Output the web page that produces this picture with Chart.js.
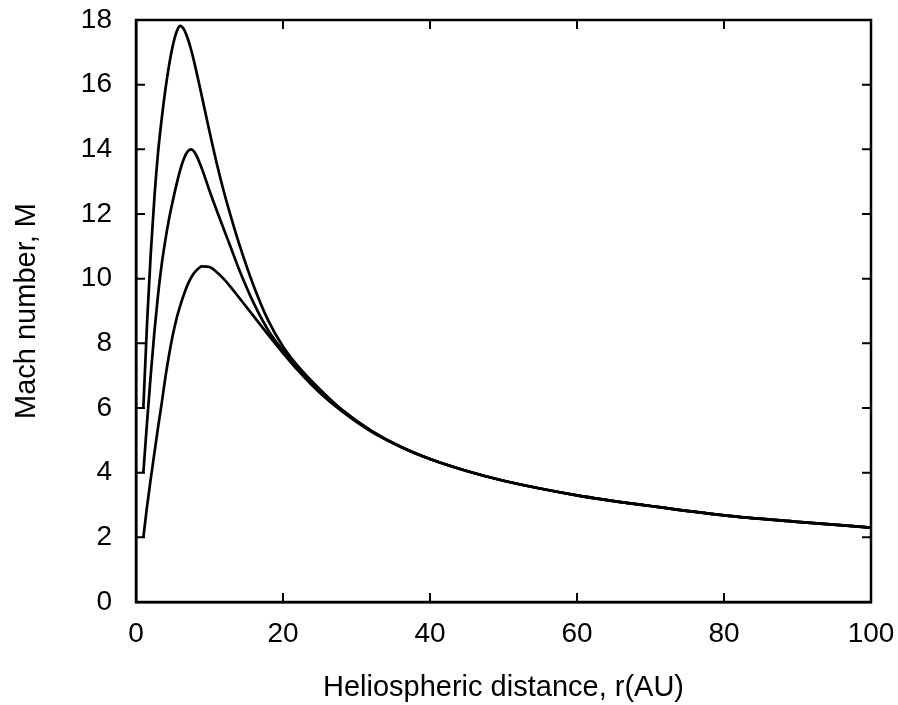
<!DOCTYPE html>
<html>
<head>
<meta charset="utf-8">
<script src="https://cdn.jsdelivr.net/npm/chart.js@4"></script>
<style>
  html, body { margin: 0; padding: 0; background: #fff; }
  #wrap { width: 898px; height: 705px; }
</style>
</head>
<body>
<div id="wrap"><canvas id="mach" width="898" height="705"></canvas></div>
<script>
// heliocentric distance, AU
const distance = [1, 1.5, 2, 2.5, 3, 3.5, 4, 4.5, 5, 5.5, 6, 6.5, 7, 7.5, 8, 9, 10, 11, 12, 13, 14,
    16, 18, 20, 22, 25, 28, 32, 36, 40, 45, 50, 60, 70, 80, 90, 100];

// Mach number for the three starting values (M = 6, 4, 2 at 1 AU)
const machHigh = [6.0, 8.6, 10.75, 12.5, 13.9, 14.95, 15.85, 16.6, 17.2, 17.62, 17.82, 17.72, 17.45, 17.08, 16.62,
    15.6, 14.55, 13.55, 12.65, 11.85, 11.1, 9.78, 8.7, 7.9, 7.3, 6.58, 5.95,
    5.3, 4.8, 4.42, 4.05, 3.75, 3.3, 2.97, 2.68, 2.48, 2.3];
const machMid = [4.0, 5.55, 7.0, 8.35, 9.5, 10.45, 11.2, 11.85, 12.4, 12.9, 13.35, 13.7, 13.93, 14.0, 13.9,
    13.38, 12.72, 12.1, 11.5, 10.9, 10.3, 9.25, 8.4, 7.78, 7.27, 6.56, 5.94,
    5.29, 4.8, 4.42, 4.05, 3.75, 3.3, 2.97, 2.68, 2.48, 2.3];
const machLow = [2.0, 2.95, 3.8, 4.6, 5.4, 6.15, 6.95, 7.65, 8.25, 8.75, 9.15, 9.5, 9.8, 10.03, 10.2,
    10.38, 10.36, 10.2, 9.98, 9.71, 9.42, 8.84, 8.26, 7.7, 7.17, 6.47, 5.9,
    5.27, 4.8, 4.42, 4.05, 3.75, 3.3, 2.97, 2.68, 2.48, 2.3];

const xTicks = [0, 20, 40, 60, 80, 100];
const yTicks = [0, 2, 4, 6, 8, 10, 12, 14, 16, 18];

const fontFamily = "'Liberation Sans', Arial, Helvetica, sans-serif";

function toPoints(ys) {
    return distance.map((r, i) => ({ x: r, y: ys[i] }));
}

function curve(ys) {
    return {
        data: toPoints(ys),
        borderColor: "#000",
        borderWidth: 2.7,
        pointRadius: 0,
        fill: false,
        cubicInterpolationMode: "monotone",
    };
}

// frame around the plot with short ticks pointing inwards on all four sides
const frameTicks = {
    id: "frameTicks",
    afterDraw(chart) {
        const { ctx, chartArea: a, scales } = chart;
        const len = 9;
        ctx.save();
        ctx.strokeStyle = "#000";
        ctx.lineWidth = 2.5;
        ctx.strokeRect(a.left, a.top, a.right - a.left, a.bottom - a.top);
        ctx.lineWidth = 2;
        ctx.beginPath();
        xTicks.slice(1, -1).forEach((v) => {
            const px = scales.x.getPixelForValue(v);
            ctx.moveTo(px, a.bottom);
            ctx.lineTo(px, a.bottom - len);
            ctx.moveTo(px, a.top);
            ctx.lineTo(px, a.top + len);
        });
        yTicks.slice(1, -1).forEach((v) => {
            const py = scales.y.getPixelForValue(v);
            ctx.moveTo(a.left, py);
            ctx.lineTo(a.left + len, py);
            ctx.moveTo(a.right, py);
            ctx.lineTo(a.right - len, py);
        });
        ctx.stroke();
        ctx.restore();
    },
};

new Chart(document.getElementById("mach"), {
    type: "line",
    data: {
        datasets: [curve(machHigh), curve(machMid), curve(machLow)],
    },
    options: {
        responsive: false,
        animation: false,
        layout: { padding: { top: 20, right: 27, bottom: 0, left: 0 } },
        plugins: {
            legend: { display: false },
            tooltip: { enabled: false },
        },
        scales: {
            x: {
                type: "linear",
                min: 0,
                max: 100,
                afterBuildTicks: (scale) => {
                    scale.ticks = xTicks.map((v) => ({ value: v }));
                },
                afterFit: (scale) => {
                    scale.height = 103;
                    scale.paddingLeft = 0;
                    scale.paddingRight = 0;
                },
                grid: { display: false, drawTicks: false },
                border: { display: true, color: "#000", width: 2.5 },
                ticks: {
                    color: "#000",
                    padding: 15,
                    maxRotation: 0,
                    font: { family: fontFamily, size: 28 },
                },
                title: {
                    display: true,
                    text: "Heliospheric distance, r(AU)",
                    color: "#000",
                    padding: { top: 0, bottom: 0 },
                    font: { family: fontFamily, size: 29 },
                },
            },
            y: {
                type: "linear",
                min: 0,
                max: 18,
                afterBuildTicks: (scale) => {
                    scale.ticks = yTicks.map((v) => ({ value: v }));
                },
                afterFit: (scale) => {
                    scale.width = 136;
                    scale.paddingTop = 0;
                    scale.paddingBottom = 0;
                },
                grid: { display: false, drawTicks: false },
                border: { display: true, color: "#000", width: 2.5 },
                ticks: {
                    color: "#000",
                    padding: 24,
                    font: { family: fontFamily, size: 28 },
                },
                title: {
                    display: true,
                    text: "Mach number, M",
                    color: "#000",
                    padding: { top: 10, bottom: 0 },
                    font: { family: fontFamily, size: 29 },
                },
            },
        },
    },
    plugins: [frameTicks],
});
</script>
</body>
</html>
